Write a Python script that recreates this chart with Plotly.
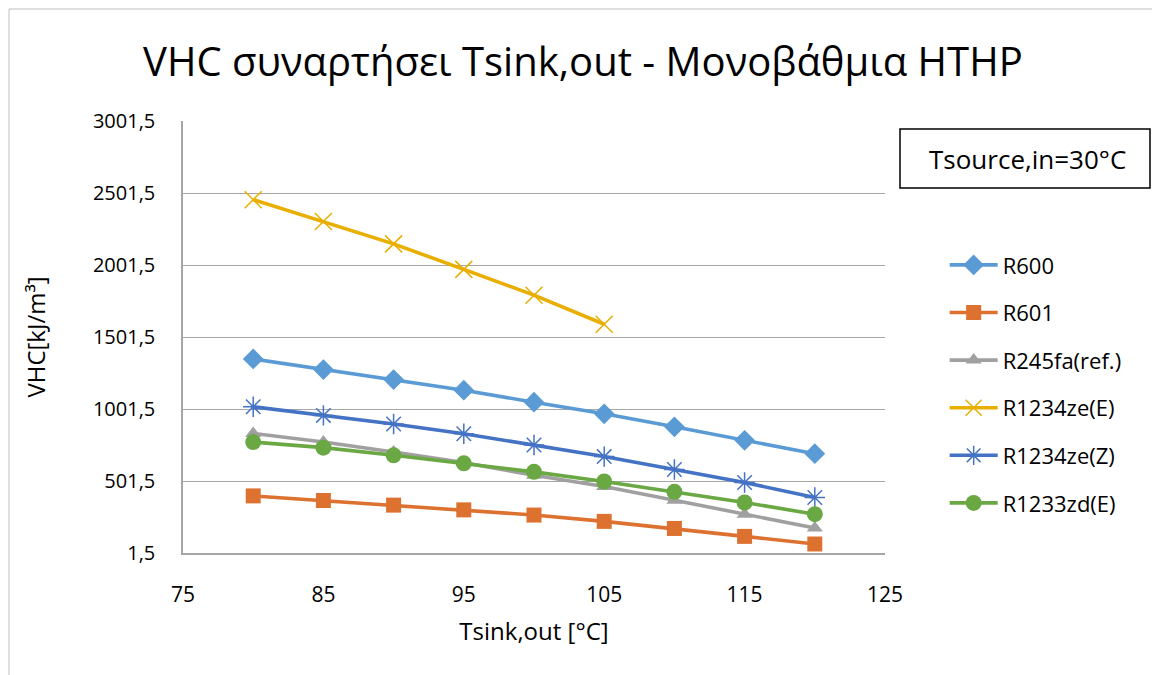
import plotly.graph_objects as go

x_vals = [80, 85, 90, 95, 100, 105, 110, 115, 120]
x_ze_e = [80, 85, 90, 95, 100, 105]

r600 = [1349, 1275, 1206, 1132, 1049, 968, 878, 784, 691]
r601 = [398, 366, 334, 301, 265, 221, 172, 117, 64]
r245fa = [832, 772, 703, 629, 541, 463, 368, 271, 175]
r1234ze_e = [2455, 2304, 2148, 1971, 1792, 1590]
r1234ze_z = [1017, 957, 897, 830, 751, 671, 581, 491, 387]
r1233zd_e = [772, 733, 680, 624, 565, 498, 426, 352, 271]

y_ticks = [1.5, 501.5, 1001.5, 1501.5, 2001.5, 2501.5, 3001.5]
y_tick_text = ["1,5", "501,5", "1001,5", "1501,5", "2001,5", "2501,5", "3001,5"]
x_ticks = [75, 85, 95, 105, 115, 125]

FONT = "Open Sans"

series = [
    ("R600", x_vals, r600, "#5b9bd5", "diamond", 16, None),
    ("R601", x_vals, r601, "#dd7230", "square", 15, None),
    ("R245fa(ref.)", x_vals, r245fa, "#a0a0a0", "triangle-up", 14, None),
    ("R1234ze(E)", x_ze_e, r1234ze_e, "#e8ae00", "x-thin-open", 17, 1.5),
    ("R1234ze(Z)", x_vals, r1234ze_z, "#4472c4", "asterisk-open", 17, 1.5),
    ("R1233zd(E)", x_vals, r1233zd_e, "#6aa844", "circle", 16, None),
]

fig = go.Figure()
for i, (name, xs, ys, col, sym, size, mlw) in enumerate(series):
    marker = dict(symbol=sym, size=size, color=col)
    if mlw is not None:
        marker["line"] = dict(color=col, width=mlw)
    fig.add_trace(go.Scatter(
        x=xs, y=ys, name=name, mode="lines+markers",
        line=dict(color=col, width=3.6),
        marker=marker, legendgroup=f"g{i}",
    ))

fig.update_layout(
    width=1152, height=675,
    paper_bgcolor="white", plot_bgcolor="white",
    margin=dict(l=183, r=267, t=121, b=122),
    font=dict(family=FONT, color="black", size=20),
    title=dict(
        text="VHC συναρτήσει Tsink,out - Μονοβάθμια HTHP",
        x=0.506, xanchor="center", y=0.908, yanchor="middle",
        font=dict(family=FONT, size=40, color="black"),
    ),
    xaxis=dict(
        range=[75, 125], tickvals=x_ticks, ticks="", showgrid=False,
        showline=True, linecolor="#a6a6a6", linewidth=1.5,
        zeroline=False, tickfont=dict(size=21), ticklabelstandoff=22,
        title=dict(text="Tsink,out [°C]", font=dict(size=24), standoff=16),
    ),
    yaxis=dict(
        range=[1.5, 3001.5], tickvals=y_ticks, ticktext=y_tick_text,
        ticks="", showgrid=True, gridcolor="#a6a6a6", gridwidth=1.3,
        showline=True, linecolor="#a6a6a6", linewidth=1.5, zeroline=False,
        tickfont=dict(size=20), ticklabelstandoff=22,
        title=dict(text="VHC[kJ/m³]", font=dict(size=24), standoff=40),
    ),
    legend=dict(
        x=1.085, xanchor="left", y=0.715, yanchor="top",
        font=dict(size=22), tracegroupgap=16, itemwidth=48,
        bgcolor="rgba(0,0,0,0)",
    ),
    showlegend=True,
)

fig.add_annotation(
    xref="paper", yref="paper", x=(1027 - 183) / 702, y=(553 - 159) / 432,
    text="Tsource,in=30°C", showarrow=False,
    font=dict(family=FONT, size=26, color="black"),
    xanchor="center", yanchor="middle",
)
fig.add_shape(
    type="rect", xref="paper", yref="paper",
    x0=(900 - 183) / 702, x1=(1150 - 183) / 702,
    y0=(553 - 188) / 432, y1=(553 - 129) / 432,
    line=dict(color="black", width=1.5), fillcolor="rgba(0,0,0,0)",
)
fig.add_shape(
    type="rect", xref="paper", yref="paper",
    x0=(9 - 183) / 702, x1=(1170 - 183) / 702,
    y0=(553 - 690) / 432, y1=(553 - 9) / 432,
    line=dict(color="#bfbfbf", width=1), fillcolor="rgba(0,0,0,0)",
    layer="below",
)

fig.write_html("out.html")
